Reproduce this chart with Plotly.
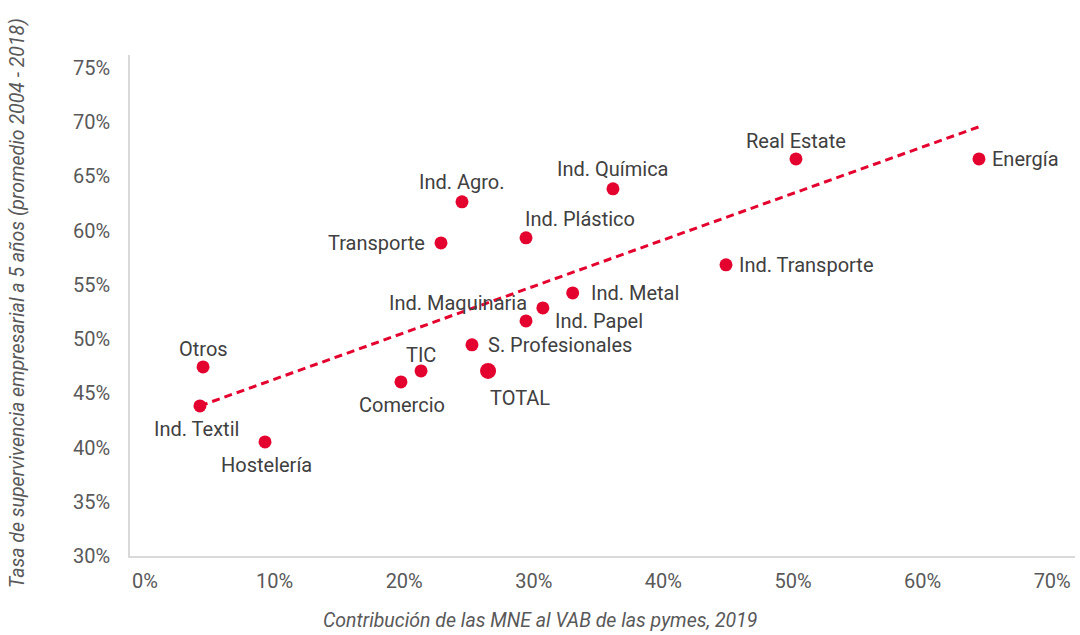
import plotly.graph_objects as go

# Data
sectors = ["Ind. Textil", "Otros", "Hostelería", "Comercio", "TIC", "S. Profesionales",
           "Ind. Papel", "Ind. Maquinaria", "Ind. Metal", "Ind. Plástico", "Transporte",
           "Ind. Agro.", "Ind. Química", "Real Estate", "Energía", "Ind. Transporte"]
mne_contrib = [0.0424, 0.0448, 0.0926, 0.1975, 0.2130, 0.2523,
               0.2940, 0.3070, 0.3300, 0.2940, 0.2284,
               0.2446, 0.3611, 0.5023, 0.6435, 0.4483]
survival = [0.4384, 0.4744, 0.4052, 0.4605, 0.4707, 0.4947,
            0.5168, 0.5288, 0.5426, 0.5934, 0.5887,
            0.6266, 0.6386, 0.6662, 0.6662, 0.5685]

total_label = "TOTAL"
total_x = 0.2647
total_y = 0.4707

trend_x = [0.0424, 0.6435]
trend_y = [0.4384, 0.6958]

x_ticks = [0, 0.1, 0.2, 0.3, 0.4, 0.5, 0.6, 0.7]
y_ticks = [0.30, 0.35, 0.40, 0.45, 0.50, 0.55, 0.60, 0.65, 0.70, 0.75]

# label placement styles (anchors, pixel offsets)
label_style = {
    "Ind. Textil": ("center", "middle", -3, -23),
    "Otros": ("center", "middle", 0, 18),
    "Hostelería": ("center", "middle", 1, -23),
    "Comercio": ("center", "middle", 1, -23),
    "TIC": ("center", "middle", 0, 16),
    "S. Profesionales": ("left", "middle", 14, 0),
    "Ind. Papel": ("left", "middle", 27, 0),
    "Ind. Maquinaria": ("right", "middle", -14, 5),
    "Ind. Metal": ("left", "middle", 16, 0),
    "Ind. Plástico": ("left", "middle", -3, 19),
    "Transporte": ("right", "middle", -14, 0),
    "Ind. Agro.": ("center", "middle", 0, 20),
    "Ind. Química": ("center", "middle", 0, 20),
    "Real Estate": ("center", "middle", 0, 18),
    "Energía": ("left", "middle", 11, 0),
    "Ind. Transporte": ("left", "middle", 11, 0),
}

RED = "#E4032E"
LABEL = "#404040"
TICK = "#595959"
FONT = "Roboto"

fig = go.Figure()
fig.add_trace(go.Scatter(x=trend_x, y=trend_y, mode="lines",
                         line=dict(color=RED, width=3, dash="8px,5px"),
                         hoverinfo="skip", showlegend=False))
fig.add_trace(go.Scatter(x=mne_contrib, y=survival, mode="markers",
                         marker=dict(color=RED, size=13),
                         text=sectors, showlegend=False))
fig.add_trace(go.Scatter(x=[total_x], y=[total_y], mode="markers",
                         marker=dict(color=RED, size=16),
                         text=[total_label], showlegend=False))

for name, xv, yv in zip(sectors, mne_contrib, survival):
    xa, ya, dx, dy = label_style[name]
    fig.add_annotation(x=xv, y=yv, text=name, showarrow=False,
                       xanchor=xa, yanchor=ya, xshift=dx, yshift=dy,
                       font=dict(family=FONT, size=20, color=LABEL))
fig.add_annotation(x=total_x, y=total_y, text=total_label, showarrow=False,
                   xanchor="left", yanchor="middle", xshift=0, yshift=-27,
                   font=dict(family=FONT, size=20, color=LABEL))

# axis titles
fig.add_annotation(xref="paper", yref="paper", x=0.434, y=-0.128,
                   text="<i>Contribución de las MNE al VAB de las pymes, 2019</i>",
                   showarrow=False, xanchor="center", yanchor="middle",
                   font=dict(family=FONT, size=19.5, color=TICK))
fig.add_annotation(xref="paper", yref="paper", x=-0.1185, y=0.505,
                   text="<i>Tasa de supervivencia empresarial a 5 años (promedio 2004 - 2018)</i>",
                   showarrow=False, xanchor="center", yanchor="middle", textangle=-90,
                   font=dict(family=FONT, size=19.5, color=TICK))

fig.update_xaxes(range=[-0.01157, 0.7176], tickvals=x_ticks, tickformat=".0%",
                 showgrid=False, zeroline=False, showline=True, linecolor="#D9D9D9",
                 linewidth=1.5, ticks="", ticklabelstandoff=6,
                 tickfont=dict(family=FONT, size=20, color=TICK))
fig.update_yaxes(range=[0.30, 0.762], tickvals=y_ticks, tickformat=".0%",
                 showgrid=False, zeroline=False, showline=True, linecolor="#D9D9D9",
                 linewidth=1.5, ticks="", ticklabelstandoff=14,
                 tickfont=dict(family=FONT, size=20, color=TICK))

fig.update_layout(width=1080, height=635, plot_bgcolor="white", paper_bgcolor="white",
                  margin=dict(l=130, r=5, t=55, b=79, autoexpand=False),
                  font=dict(family=FONT))

fig.write_html("out.html", config={"displayModeBar": False},
               post_script="document.body.style.margin='0';")
